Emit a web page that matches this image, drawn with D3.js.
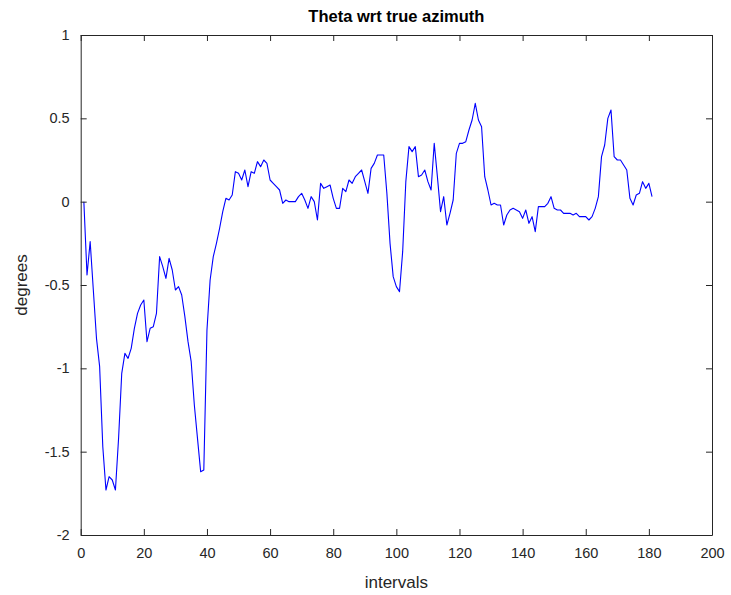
<!DOCTYPE html>
<html><head><meta charset="utf-8">
<script src="https://cdn.jsdelivr.net/npm/d3@7"></script>
<style>body{margin:0;background:#fff;} svg{display:block;}</style>
</head><body>
<svg id="chart" width="731" height="595"></svg>
<script>
const titleText = "Theta wrt true azimuth";
const xLabel = "intervals";
const yLabel = "degrees";
const xTicks = [0,20,40,60,80,100,120,140,160,180,200];
const yTicks = [-2,-1.5,-1,-0.5,0,0.5,1];
const thetaValues = [
 0,-0.44,-0.24,-0.53,-0.82,-0.99,-1.47,-1.73,-1.65,-1.67,
 -1.73,-1.42,-1.03,-0.91,-0.94,-0.88,-0.76,-0.67,-0.62,-0.59,
 -0.84,-0.76,-0.75,-0.67,-0.33,-0.39,-0.46,-0.34,-0.41,-0.53,
 -0.51,-0.56,-0.69,-0.84,-0.96,-1.22,-1.42,-1.62,-1.61,-0.77,
 -0.47,-0.33,-0.25,-0.16,-0.06,0.02,0.01,0.04,0.18,0.17,
 0.13,0.19,0.09,0.18,0.17,0.24,0.21,0.25,0.23,0.13,
 0.11,0.09,0.07,-0.01,0.01,0.0,0.0,0.0,0.03,0.05,
 0.01,-0.04,0.03,0.0,-0.11,0.11,0.08,0.09,0.10,0.02,
 -0.04,-0.04,0.08,0.06,0.13,0.11,0.15,0.17,0.19,0.12,
 0.05,0.20,0.23,0.28,0.28,0.28,0.05,-0.25,-0.45,-0.51,
 -0.54,-0.30,0.12,0.33,0.30,0.33,0.15,0.16,0.19,0.12,
 0.07,0.35,0.15,-0.06,0.03,-0.14,-0.07,0.01,0.29,0.35,
 0.35,0.36,0.43,0.49,0.59,0.49,0.45,0.15,0.07,-0.02,
 -0.01,-0.02,-0.02,-0.14,-0.08,-0.05,-0.04,-0.05,-0.06,-0.10,
 -0.05,-0.13,-0.09,-0.18,-0.03,-0.03,-0.03,-0.01,0.03,-0.04,
 -0.05,-0.05,-0.07,-0.07,-0.07,-0.08,-0.07,-0.09,-0.09,-0.09,
 -0.11,-0.09,-0.04,0.03,0.27,0.34,0.50,0.55,0.27,0.25,
 0.25,0.22,0.19,0.02,-0.02,0.04,0.05,0.12,0.08,0.11,
 0.03
];
const intervals = thetaValues.map((d,i)=>i+1);

const svg = d3.select("#chart");
const L = 80.7, R = 712, T = 35, B = 535;
const x = d3.scaleLinear().domain([0,200]).range([L,R]);
const y = d3.scaleLinear().domain([-2,1]).range([B,T]);
const axisColor = "#262626";
const font = "'Liberation Sans', Arial, Helvetica, sans-serif";
const tickLen = 6;

svg.append("rect").attr("x",L).attr("y",T).attr("width",R-L).attr("height",B-T)
  .attr("fill","#fff").attr("stroke","none");

const lineGen = d3.line().x((d,i)=>x(intervals[i])).y(d=>y(d));
svg.append("path").datum(thetaValues).attr("d",lineGen)
  .attr("fill","none").attr("stroke","#0000ff").attr("stroke-width",1.1)
  .attr("stroke-linejoin","round");

const gBottom = svg.append("g").attr("transform",`translate(0,${B})`)
  .call(d3.axisBottom(x).tickValues(xTicks).tickSizeInner(-tickLen).tickSizeOuter(0).tickPadding(13));
const gTop = svg.append("g").attr("transform",`translate(0,${T})`)
  .call(d3.axisTop(x).tickValues(xTicks).tickSizeInner(-tickLen).tickSizeOuter(0).tickFormat(""));
const gLeft = svg.append("g").attr("transform",`translate(${L},0)`)
  .call(d3.axisLeft(y).tickValues(yTicks).tickSizeInner(-tickLen).tickSizeOuter(0).tickPadding(11).tickFormat(d3.format("")));
const gRight = svg.append("g").attr("transform",`translate(${R},0)`)
  .call(d3.axisRight(y).tickValues(yTicks).tickSizeInner(-tickLen).tickSizeOuter(0).tickFormat(""));

[gBottom,gTop,gLeft,gRight].forEach(g=>{
  g.selectAll("path.domain").attr("stroke",axisColor).attr("stroke-width",1);
  g.selectAll(".tick line").attr("stroke",axisColor).attr("stroke-width",1);
  g.selectAll(".tick text").attr("fill",axisColor).style("font-family",font).style("font-size","14.5px");
});
gLeft.selectAll(".tick text").text(d=>String(d));

svg.append("text").attr("x",(L+R)/2).attr("y",22).attr("text-anchor","middle")
  .style("font-family",font).style("font-size","16.5px").style("font-weight","bold")
  .attr("fill","#000").text(titleText);
svg.append("text").attr("x",(L+R)/2).attr("y",588).attr("text-anchor","middle")
  .style("font-family",font).style("font-size","17px").attr("fill",axisColor).text(xLabel);
svg.append("text").attr("transform",`translate(27,${(T+B)/2}) rotate(-90)`).attr("text-anchor","middle")
  .style("font-family",font).style("font-size","17px").attr("fill",axisColor).text(yLabel);
</script>
</body></html>
